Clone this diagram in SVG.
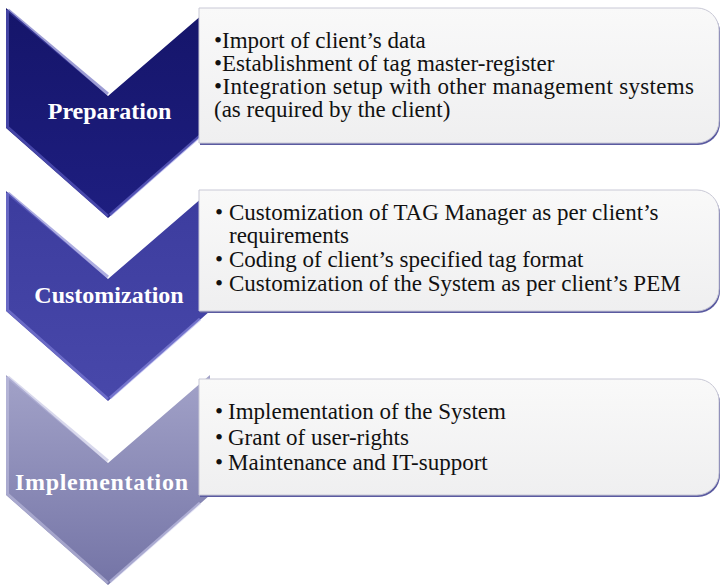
<svg xmlns="http://www.w3.org/2000/svg" width="722" height="586" viewBox="0 0 722 586">
<defs>
<linearGradient id="g1" x1="0" y1="0" x2="0" y2="1"><stop offset="0" stop-color="#15156a"/><stop offset="1" stop-color="#1e1e80"/></linearGradient>
<linearGradient id="g2" x1="0" y1="0" x2="0" y2="1"><stop offset="0" stop-color="#3c3c9e"/><stop offset="1" stop-color="#4848aa"/></linearGradient>
<linearGradient id="g3" x1="0" y1="0" x2="0" y2="1"><stop offset="0" stop-color="#a2a2c8"/><stop offset="1" stop-color="#7474a6"/></linearGradient>
<linearGradient id="gb" x1="0" y1="0" x2="0" y2="1"><stop offset="0" stop-color="#f9f9f9"/><stop offset="1" stop-color="#efeff0"/></linearGradient>
<style>
.box{fill:url(#gb);stroke:#c9c9d6;stroke-width:1}
.shadow{fill:#5a5aa0}
.hl{fill:none;stroke-width:3;stroke-linejoin:round;opacity:0.55}
.lbl{font-family:"Liberation Serif","Times New Roman",serif;font-weight:bold;font-size:24px;fill:#ffffff}
.txt{font-family:"Liberation Serif","Times New Roman",serif;font-size:23px;fill:#111111}
</style>
</defs>

<g id="connectors"></g>

<g id="chevron-preparation">
<polygon points="6,8 108,96 210,8 210,128 108,218 6,128" fill="url(#g1)"/>
<polyline class="hl" stroke="#6a6ad0" points="7.5,10 7.5,127 108,216"/>
<polyline class="hl" stroke="#8080e0" points="110,215 200,136"/>
<polyline class="hl" stroke="#4a4ab0" points="8,10 108,94"/>
<text class="lbl" x="109.5" y="119" text-anchor="middle">Preparation</text>
</g>

<g id="box-preparation">
<path class="shadow" d="M200,10 H698 A22,22 0 0 1 720,32 V123 A22,22 0 0 1 698,145 H200 Z"/>
<path class="box" d="M199,8 H697 A22,22 0 0 1 719,30 V121 A22,22 0 0 1 697,143 H199 Z"/>
<text class="txt" x="214" y="48">•Import of client’s data</text>
<text class="txt" x="214" y="71">•Establishment of tag master-register</text>
<text class="txt" x="214" y="94" textLength="480" lengthAdjust="spacing">•Integration setup with other management systems</text>
<text class="txt" x="214" y="117">(as required by the client)</text>
</g>

<g id="chevron-customization">
<polygon points="6,191 108,279 210,191 210,311 108,401 6,311" fill="url(#g2)"/>
<polyline class="hl" stroke="#8a8ae0" points="7.5,193 7.5,310 108,399"/>
<polyline class="hl" stroke="#9a9aea" points="110,398 200,319"/>
<polyline class="hl" stroke="#6a6ac8" points="8,193 108,277"/>
<text class="lbl" x="109" y="303" text-anchor="middle">Customization</text>
</g>

<g id="box-customization">
<path class="shadow" d="M200,192 H698 A22,22 0 0 1 720,214 V291 A22,22 0 0 1 698,313 H200 Z"/>
<path class="box" d="M199,190 H697 A22,22 0 0 1 719,212 V289 A22,22 0 0 1 697,311 H199 Z"/>
<text class="txt" x="215" y="220">•</text><text class="txt" x="229" y="220">Customization of TAG Manager as per client’s</text>
<text class="txt" x="229" y="243">requirements</text>
<text class="txt" x="215" y="267">•</text><text class="txt" x="229" y="267">Coding of client’s specified tag format</text>
<text class="txt" x="215" y="291">•</text><text class="txt" x="229" y="291">Customization of the System as per client’s PEM</text>
</g>

<g id="chevron-implementation">
<polygon points="6,375 108,463 210,375 210,495 108,585 6,495" fill="url(#g3)"/>
<polyline class="hl" stroke="#c4c4e4" points="7.5,377 7.5,494 108,583"/>
<polyline class="hl" stroke="#d0d0ee" points="110,582 200,503"/>
<polyline class="hl" stroke="#b8b8dc" points="8,377 108,461"/>
<text class="lbl" x="15" y="490" textLength="173" lengthAdjust="spacing">Implementation</text>
</g>

<g id="box-implementation">
<path class="shadow" d="M200,381 H698 A22,22 0 0 1 720,403 V475 A22,22 0 0 1 698,497 H200 Z"/>
<path class="box" d="M199,379 H697 A22,22 0 0 1 719,401 V473 A22,22 0 0 1 697,495 H199 Z"/>
<text class="txt" x="215" y="419">•</text><text class="txt" x="228" y="419">Implementation of the System</text>
<text class="txt" x="215" y="445">•</text><text class="txt" x="228" y="445">Grant of user-rights</text>
<text class="txt" x="215" y="470">•</text><text class="txt" x="228" y="470">Maintenance and IT-support</text>
</g>
</svg>
